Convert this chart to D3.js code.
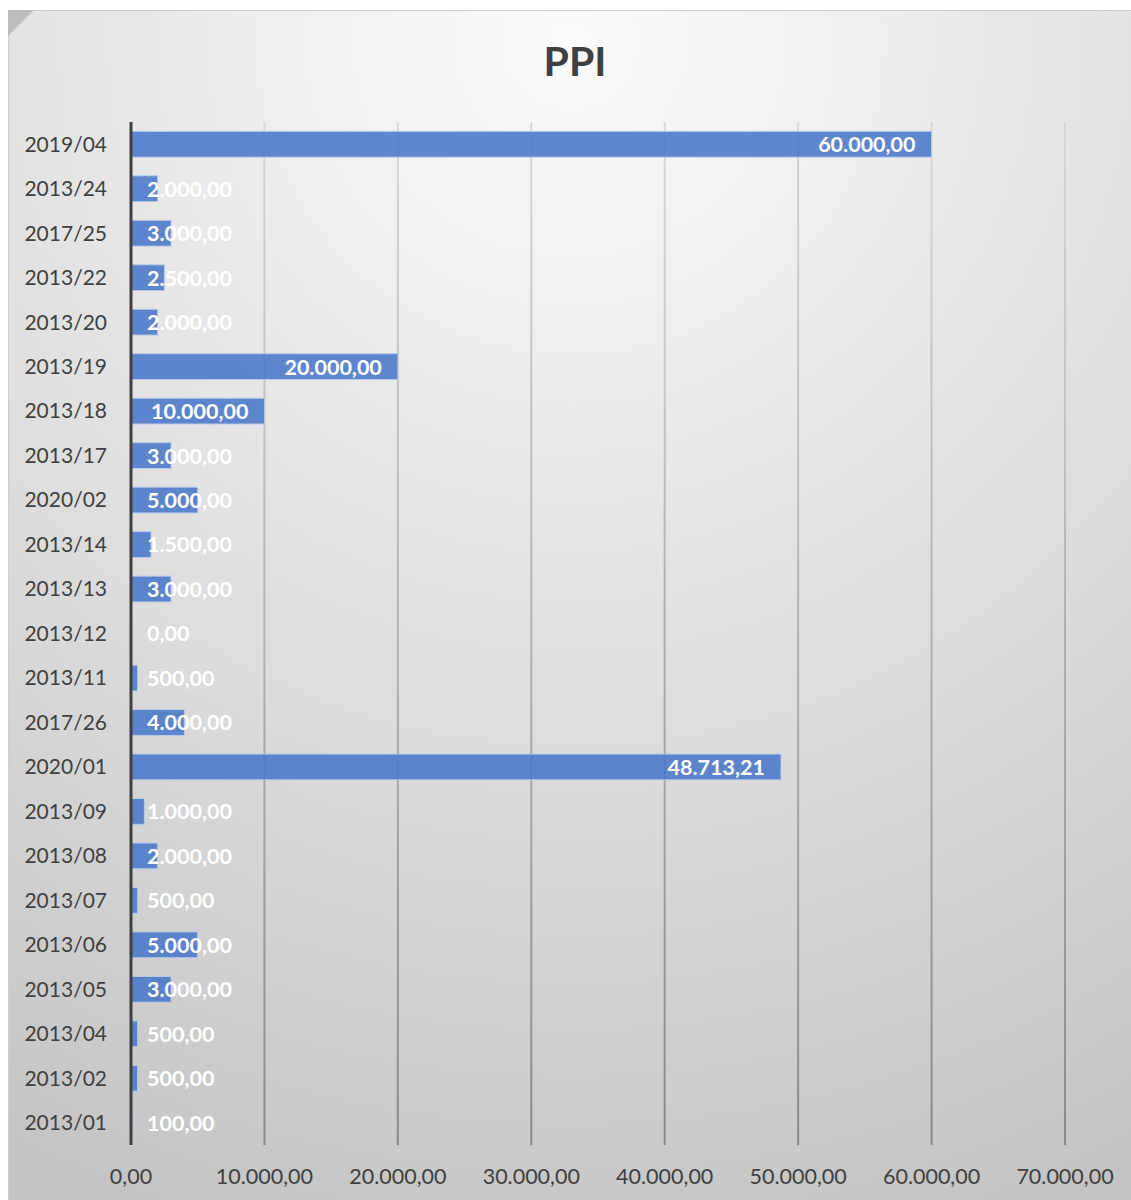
<!DOCTYPE html>
<html lang="en">
<head>
    <meta charset="UTF-8">
    <script src="https://d3js.org/d3.v7.min.js"></script>
    <title>PPI</title>
    <style>
        body { margin: 0; background: #fff; }
    </style>
</head>
<body>
    <script>
        // categories top -> bottom, as shown in the chart
        var categories = ["2019/04","2013/24","2017/25","2013/22","2013/20","2013/19","2013/18","2013/17","2020/02","2013/14","2013/13","2013/12","2013/11","2017/26","2020/01","2013/09","2013/08","2013/07","2013/06","2013/05","2013/04","2013/02","2013/01"];
        var values = [60000,2000,3000,2500,2000,20000,10000,3000,5000,1500,3000,0,500,4000,48713.21,1000,2000,500,5000,3000,500,500,100];
        var xTicks = [0,10000,20000,30000,40000,50000,60000,70000];

        var W = 1131, H = 1200;
        var plotL = 131, plotR = 1065, plotT = 122, plotB = 1145;

        var locale = d3.formatLocale({decimal: ",", thousands: ".", grouping: [3], currency: ["", ""]});
        var fmt = locale.format(",.2f");

        var svg = d3.select("body").append("svg").attr("width", W).attr("height", H);
        var defs = svg.append("defs");

        var bg = defs.append("radialGradient").attr("id", "bg")
            .attr("gradientUnits", "userSpaceOnUse")
            .attr("cx", 570).attr("cy", 40).attr("r", 1250);
        bg.append("stop").attr("offset", "0").attr("stop-color", "#fbfbfb");
        bg.append("stop").attr("offset", "0.5").attr("stop-color", "#e0e0e0");
        bg.append("stop").attr("offset", "1").attr("stop-color", "#c4c4c4");

        var gl = defs.append("linearGradient").attr("id", "grid")
            .attr("gradientUnits", "userSpaceOnUse")
            .attr("x1", 0).attr("y1", plotT).attr("x2", 0).attr("y2", plotB);
        gl.append("stop").attr("offset", "0").attr("stop-color", "#d8d8d8");
        gl.append("stop").attr("offset", "1").attr("stop-color", "#8a8a8a");

        // frame
        svg.append("rect").attr("x", 8.5).attr("y", 10.5).attr("width", W - 8).attr("height", H - 10)
            .attr("fill", "url(#bg)").attr("stroke", "#cfcfcf");
        svg.append("path").attr("d", "M8,10 L34,10 L8,36 Z").attr("fill", "#bdbdbd");

        var x = d3.scaleLinear().domain([0, 70000]).range([plotL, plotR]);
        var y = d3.scaleBand().domain(categories).range([plotT, plotB]).paddingInner(0.42).paddingOuter(0.21);

        // gridlines
        svg.append("g").selectAll("line").data(xTicks.slice(1)).join("line")
            .attr("x1", d => x(d)).attr("x2", d => x(d))
            .attr("y1", plotT).attr("y2", plotB)
            .attr("stroke", "url(#grid)").attr("stroke-width", 2);

        // bars
        svg.append("g").selectAll("rect").data(values).join("rect")
            .attr("x", x(0))
            .attr("y", (d, i) => y(categories[i]))
            .attr("width", d => x(d) - x(0))
            .attr("height", y.bandwidth())
            .attr("fill", "#4a78c8").attr("fill-opacity", 0.88)
            .attr("stroke", "#b8cbe8").attr("stroke-width", d => d > 0 ? 1 : 0);

        // vertical axis line
        svg.append("line").attr("x1", plotL).attr("x2", plotL).attr("y1", plotT).attr("y2", plotB)
            .attr("stroke", "#404040").attr("stroke-width", 3);

        // category labels
        svg.append("g").selectAll("text").data(categories).join("text")
            .attr("x", 107)
            .attr("y", d => y(d) + y.bandwidth() / 2)
            .attr("dy", "0.35em")
            .attr("text-anchor", "end")
            .style("font-family", "Lato, 'Open Sans', sans-serif")
            .style("font-size", "21px")
            .attr("fill", "#404040")
            .text(d => d);

        // x tick labels
        svg.append("g").selectAll("text").data(xTicks).join("text")
            .attr("x", d => x(d))
            .attr("y", 1184)
            .attr("text-anchor", "middle")
            .style("font-family", "Lato, 'Open Sans', sans-serif")
            .style("font-size", "21.5px")
            .attr("fill", "#404040")
            .text(d => fmt(d));

        // data labels: inside end, but never left of the axis
        var lab = svg.append("g").style("font-family", "Lato, 'Open Sans', sans-serif")
            .style("font-size", "21.5px").style("font-weight", "bold").attr("fill", "#fff");
        lab.selectAll("text").data(values).join("text")
            .attr("y", (d, i) => y(categories[i]) + y.bandwidth() / 2)
            .attr("dy", "0.37em")
            .text(d => fmt(d))
            .each(function(d) {
                var w = this.getComputedTextLength();
                var xr = x(d) - 16;
                var xs = Math.max(147, xr - w);
                d3.select(this).attr("x", xs);
            });

        // title
        svg.append("text").attr("x", 575).attr("y", 76).attr("text-anchor", "middle")
            .style("font-family", "Lato, 'Open Sans', sans-serif")
            .style("font-size", "41px").style("font-weight", "bold")
            .attr("fill", "#404040").text("PPI");
    </script>
</body>
</html>
